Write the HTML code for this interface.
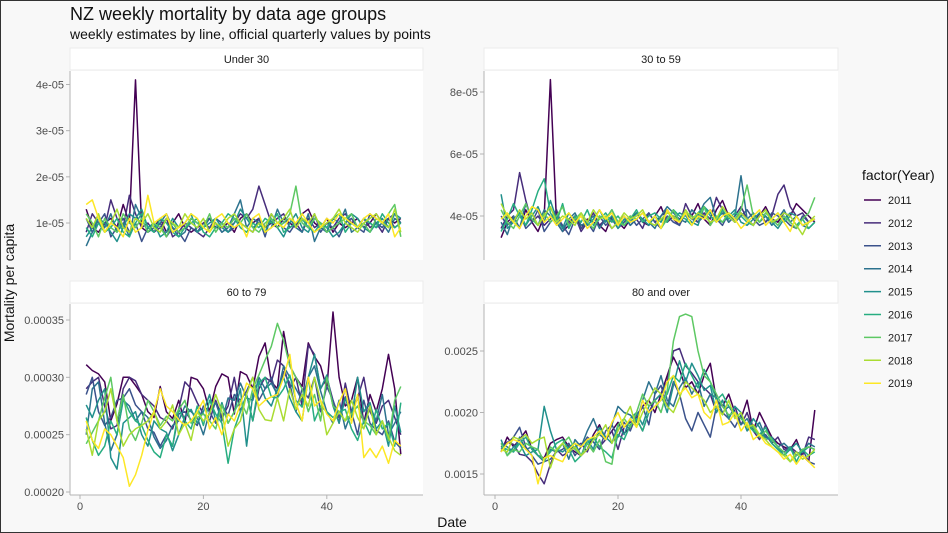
<!DOCTYPE html>
<html><head><meta charset="utf-8"><style>
html,body{margin:0;padding:0;background:#f8f8f8;}
svg{display:block;font-family:"Liberation Sans",sans-serif;}
</style></head><body>
<svg id="chart" width="948" height="533" viewBox="0 0 948 533" xmlns="http://www.w3.org/2000/svg">
<rect x="0.5" y="0.5" width="947" height="532" fill="#f8f8f8" stroke="#333"/>
<text x="70" y="20" font-size="18" fill="#111">NZ weekly mortality by data age groups</text>
<text x="70" y="39" font-size="14" fill="#111">weekly estimates by line, official quarterly values by points</text>
<text transform="translate(14,283) rotate(-90)" text-anchor="middle" font-size="14" fill="#111">Mortality per capita</text>
<text x="452" y="527" text-anchor="middle" font-size="14" fill="#111">Date</text>
<g id="panels"></g>
<g id="legend"></g>
</svg>
<script>
const years = [2011,2012,2013,2014,2015,2016,2017,2018,2019];
const colors = ["#440154","#472D7B","#3B528B","#2C728E","#21908C","#27AD81","#5DC863","#AADC32","#FDE725"];
const panelTitles = ["Under 30","30 to 59","60 to 79","80 and over"];
const xTicks = [0,20,40];
const ticksP1 = [10,20,30,40]; const labelsP1 = ["1e-05","2e-05","3e-05","4e-05"];
const ticksP2 = [40,60,80]; const labelsP2 = ["4e-05","6e-05","8e-05"];
const ticksP3 = [200,250,300,350]; const labelsP3 = ["0.00020","0.00025","0.00030","0.00035"];
const ticksP4 = [150,200,250]; const labelsP4 = ["0.0015","0.0020","0.0025"];
// Under 30, units 1e-6
const under30 = [
[13,9,8,10,11,9,14,10,41,9,8,9,11,8,10,12,9,8,9,10,11,9,9,10,8,11,12,10,11,9,10,9,11,10,9,12,13,10,9,11,8,10,9,10,11,9,10,12,10,11,10,11],
[8,12,10,9,15,11,9,16,12,9,10,8,9,11,7,8,10,9,8,7,9,10,8,9,10,12,11,13,18,14,10,11,12,9,10,8,11,9,10,8,9,11,12,10,9,11,9,10,8,11,9,10],
[11,8,10,12,7,9,11,8,10,6,9,8,10,7,9,8,6,9,8,10,9,11,10,8,9,10,9,8,11,7,12,10,9,8,10,11,9,12,8,10,9,7,10,11,9,8,12,10,9,11,12,10],
[5,8,11,9,12,8,10,7,14,11,8,9,10,12,9,7,8,11,10,9,11,10,8,9,12,15,9,11,10,8,9,13,10,11,9,8,12,6,9,8,11,10,13,8,9,11,10,9,10,8,11,10],
[7,9,11,10,8,6,9,12,11,13,9,10,7,8,11,9,10,12,8,9,10,11,9,8,10,13,11,9,10,8,11,9,7,10,12,9,8,11,10,9,7,8,10,12,11,9,8,10,11,9,12,11],
[9,7,10,8,9,11,8,7,10,12,9,8,11,10,8,7,9,10,11,8,7,9,10,12,11,9,8,10,9,11,10,12,8,9,10,11,9,8,10,9,11,12,8,10,9,11,10,9,12,10,9,10],
[12,10,7,11,9,8,12,10,9,11,8,10,9,7,10,8,9,11,10,9,12,8,10,9,11,10,12,9,8,10,11,9,10,12,18,10,9,11,10,8,9,10,11,12,9,10,8,11,10,12,14,7],
[11,9,12,8,10,13,9,8,11,10,12,9,8,11,10,9,12,10,9,11,8,10,9,11,12,10,9,8,10,9,12,10,11,13,9,11,10,12,9,10,11,13,10,9,8,10,11,12,10,9,13,8],
[14,15,11,8,10,9,7,11,8,9,16,10,11,12,8,9,10,12,11,9,8,11,12,10,9,10,7,11,12,8,9,10,9,11,10,12,10,8,9,11,10,12,11,10,9,11,12,11,10,12,7,9]
];
// 30 to 59, units 1e-6
const age30to59 = [
[33,38,40,36,42,38,35,40,84,38,35,37,40,36,39,38,37,35,40,38,36,39,41,38,37,40,43,38,40,39,41,40,44,39,37,42,45,40,38,41,39,37,40,43,39,38,41,40,44,42,40,38],
[36,40,42,54,45,38,40,37,39,42,36,38,40,35,38,41,37,39,36,38,40,37,39,36,41,38,40,42,39,37,44,40,38,41,39,46,42,38,40,43,39,37,41,38,40,47,50,43,40,41,38,39],
[40,37,39,41,36,38,42,35,38,40,37,34,39,36,38,35,40,37,39,36,38,40,37,39,41,38,36,40,38,37,41,39,38,40,42,39,37,41,38,40,42,39,37,38,41,40,39,37,36,40,38,39],
[38,34,40,36,44,39,37,42,40,38,35,39,41,37,38,40,36,39,42,38,40,37,39,41,38,36,40,43,41,39,38,42,40,44,46,39,41,38,40,53,39,41,38,40,37,39,42,38,40,37,36,38],
[47,36,38,41,37,40,43,38,45,39,36,41,38,40,37,39,42,38,40,36,39,38,41,39,37,40,38,42,39,41,40,38,37,43,41,39,38,40,42,38,37,39,41,40,38,36,39,41,40,37,38,39],
[35,39,44,40,37,42,48,52,41,38,44,36,40,38,42,37,39,41,38,40,37,39,42,38,40,41,39,38,42,40,39,37,41,43,40,38,42,39,41,40,38,37,40,42,39,41,38,40,37,39,36,38],
[42,38,36,40,44,39,37,41,38,40,43,37,39,41,38,36,40,39,42,38,37,40,39,41,38,40,36,39,42,38,41,40,39,43,37,40,38,41,39,42,50,40,38,41,39,37,40,38,36,39,41,46],
[44,40,38,42,39,41,37,40,43,38,40,39,37,41,38,42,39,40,36,38,41,39,40,42,38,37,39,41,40,38,42,39,41,40,38,39,43,40,38,41,39,37,40,42,38,39,41,40,37,34,38,40],
[39,41,38,36,40,43,42,38,40,37,39,41,38,40,36,38,42,39,41,37,40,38,39,41,38,40,36,42,39,38,41,37,40,39,42,38,40,41,39,36,38,40,42,37,39,41,38,35,40,37,38,39]
];
// 60 to 79, units 1e-6
const age60to79 = [
[311,306,303,296,262,277,300,300,293,285,270,265,292,270,264,280,260,300,298,290,270,292,303,300,268,305,302,290,318,330,296,290,340,310,300,292,330,318,310,290,357,300,275,280,300,260,285,270,290,320,290,233],
[290,296,300,275,255,258,290,300,297,285,280,275,265,262,255,272,296,290,278,268,262,280,265,275,300,270,285,262,290,300,296,315,310,290,300,275,328,320,290,300,280,260,295,270,282,300,270,260,275,280,265,250],
[285,300,270,258,265,280,282,290,276,270,255,252,240,250,240,268,270,263,258,275,270,260,275,267,285,280,288,300,280,290,300,283,305,295,270,290,282,300,270,292,280,265,283,270,250,280,260,254,250,262,244,238],
[250,290,296,260,236,250,280,275,262,270,265,248,238,245,258,262,275,270,265,250,270,278,262,282,280,295,282,280,300,290,295,285,310,300,290,280,300,310,288,270,260,280,255,270,284,260,275,262,285,250,260,270],
[276,265,280,290,230,220,260,265,270,250,240,262,255,252,236,250,266,272,260,270,285,262,278,260,270,290,240,285,297,282,275,290,300,282,270,262,300,320,290,302,275,260,282,265,300,270,278,255,262,240,275,252],
[265,245,232,240,262,250,282,270,262,258,245,235,230,250,240,272,262,255,275,258,280,268,260,225,255,270,285,262,295,300,283,282,290,302,280,274,300,262,275,270,265,270,272,255,245,262,250,272,255,260,240,278],
[242,252,262,282,300,262,285,255,245,260,280,270,258,266,262,272,280,260,265,268,262,255,276,260,270,280,268,290,302,315,327,347,332,310,300,290,270,285,262,300,275,270,262,268,275,262,258,250,262,245,280,292],
[255,232,262,270,290,262,240,250,255,258,262,270,255,262,276,250,260,245,270,262,268,285,270,240,255,262,285,300,272,263,262,282,262,290,272,285,275,300,280,250,260,270,262,280,265,255,275,250,262,248,236,232],
[262,245,238,255,250,240,230,205,215,232,254,270,290,275,270,263,258,262,270,280,255,265,250,268,262,276,295,290,275,280,283,285,300,320,278,262,300,275,280,268,262,278,290,260,285,230,238,230,240,225,245,240]
];
// 80 and over, units 1e-5
const age80plus = [
[168,180,172,178,185,170,165,163,175,178,180,172,168,165,170,182,190,178,185,192,183,188,195,205,210,200,215,230,245,235,220,225,215,230,240,210,205,215,200,195,210,185,200,190,180,175,172,170,178,165,160,202],
[172,176,174,166,165,160,150,142,158,170,165,168,172,175,168,180,172,178,185,170,188,192,195,185,200,210,215,225,250,252,238,232,225,220,215,200,210,195,205,190,200,185,178,190,175,180,170,172,168,165,180,178],
[170,175,180,188,172,165,158,160,162,168,170,175,165,172,180,176,170,185,190,180,192,185,198,205,190,215,222,205,225,215,195,185,200,190,180,205,200,195,188,198,185,190,180,182,175,170,168,172,165,170,160,158],
[175,172,168,180,170,172,165,160,170,168,175,162,178,172,185,195,182,178,190,205,200,198,192,210,225,215,230,210,205,220,228,215,225,205,215,212,200,205,198,190,195,185,192,180,178,172,175,170,165,168,175,172],
[178,165,172,175,165,168,170,205,185,170,168,172,175,165,178,170,188,180,175,190,182,195,200,190,205,210,215,200,222,242,225,240,230,218,222,200,210,195,205,200,185,195,188,178,180,172,165,170,175,168,172,170],
[172,170,168,175,180,170,165,162,168,175,178,170,160,165,175,180,172,168,163,182,178,190,195,185,200,205,210,215,230,225,240,230,220,235,225,210,215,205,200,195,190,185,182,188,175,170,165,172,160,170,165,168],
[175,165,170,168,175,172,170,160,172,168,175,180,170,165,175,168,178,160,158,190,195,188,200,215,205,210,200,218,258,278,280,278,250,230,225,215,205,198,200,195,190,188,180,185,178,172,168,160,165,170,172,170],
[170,168,180,178,182,175,178,180,155,170,175,168,172,165,170,178,182,190,175,185,195,205,188,200,210,220,215,205,200,212,225,220,215,210,200,205,198,210,195,200,188,190,182,178,172,168,165,160,168,162,165,170],
[168,175,178,176,170,165,142,163,165,162,160,170,175,172,178,180,185,178,192,200,188,195,188,210,200,205,210,225,230,215,220,212,215,200,195,210,190,192,200,185,192,178,182,175,172,168,162,166,158,165,160,155]
];

const NS = "http://www.w3.org/2000/svg";
function mk(tag, attrs, parent){const e=document.createElementNS(NS,tag);for(const k in attrs)e.setAttribute(k,attrs[k]);parent.appendChild(e);return e;}
const xLeft = w => 80 + w*6.17;
const xRight = w => 495 + w*6.15;
function linY(v0,y0,v1,y1){return v=>y0+(v-v0)*(y1-y0)/(v1-v0);}
const panels = [
 {title:panelTitles[0], data:under30, x0:70,x1:423,y0:71,y1:260, xs:xLeft, ys:linY(10,223,40,84.5), ticks:ticksP1, labels:labelsP1, xaxis:false, strip:48},
 {title:panelTitles[1], data:age30to59, x0:484,x1:838,y0:71,y1:260, xs:xRight, ys:linY(40,216,80,92), ticks:ticksP2, labels:labelsP2, xaxis:false, strip:48},
 {title:panelTitles[2], data:age60to79, x0:70,x1:423,y0:304,y1:495, xs:xLeft, ys:linY(200,492,350,320), ticks:ticksP3, labels:labelsP3, xaxis:true, strip:281},
 {title:panelTitles[3], data:age80plus, x0:484,x1:838,y0:304,y1:495, xs:xRight, ys:linY(150,474,250,351), ticks:ticksP4, labels:labelsP4, xaxis:true, strip:281}
];
const root = document.getElementById('panels');
panels.forEach((p,pi)=>{
  const g = mk('g',{},root);
  
  
  const st = mk('rect',{x:p.x0,y:p.strip,width:p.x1-p.x0,height:22,fill:'#ffffff',stroke:'#ebebeb'},g);
  
  
  const stt = mk('text',{x:(p.x0+p.x1)/2,y:p.strip+15,'text-anchor':'middle','font-size':11,fill:'#1a1a1a'},g);
  stt.textContent = p.title;
  
  
  const bg = mk('rect',{x:p.x0,y:p.y0,width:p.x1-p.x0,height:p.y1-p.y0,fill:'#ffffff'},g);
  
  
  const ya = mk('line',{x1:p.x0,y1:p.y0,x2:p.x0,y2:p.y1,stroke:'#b3b3b3','stroke-width':1},g);
  
  
  p.ticks.forEach((t,i)=>{
    const y = p.ys(t);
    mk('line',{x1:p.x0-4,y1:y,x2:p.x0,y2:y,stroke:'#b3b3b3'},g);
    const tl = mk('text',{x:p.x0-6,y:y+4,'text-anchor':'end','font-size':11,fill:'#4d4d4d'},g);
    tl.textContent = p.labels[i];
    
    
  });
  if(p.xaxis){
    const xa = mk('line',{x1:p.x0,y1:p.y1,x2:p.x1,y2:p.y1,stroke:'#b3b3b3'},g);
    
    
    xTicks.forEach(t=>{
      const x = p.xs(t);
      mk('line',{x1:x,y1:p.y1,x2:x,y2:p.y1+4,stroke:'#b3b3b3'},g);
      const tl = mk('text',{x:x,y:p.y1+15,'text-anchor':'middle','font-size':11,fill:'#4d4d4d'},g);
      tl.textContent = t;
      
      
    });
  }
  p.data.forEach((series,si)=>{
    const pts = series.map((v,i)=>p.xs(i+1).toFixed(1)+','+p.ys(v).toFixed(1)).join(' ');
    const pl = mk('polyline',{points:pts,fill:'none',stroke:colors[si],'stroke-width':1.5,'stroke-linejoin':'round'},g);
    
    
  });
});
const lg = document.getElementById('legend');
const lt = mk('text',{x:862,y:180,'font-size':14,fill:'#111'},lg);
lt.textContent = 'factor(Year)';


years.forEach((yr,i)=>{
  const y = 200 + i*22.9;
  const eg = mk('g',{},lg);
  
  
  mk('line',{x1:864,y1:y,x2:881,y2:y,stroke:colors[i],'stroke-width':1.5},eg);
  const t = mk('text',{x:888,y:y+4,'font-size':11,fill:'#1a1a1a'},eg);
  t.textContent = yr;
});
</script>
</body></html>
